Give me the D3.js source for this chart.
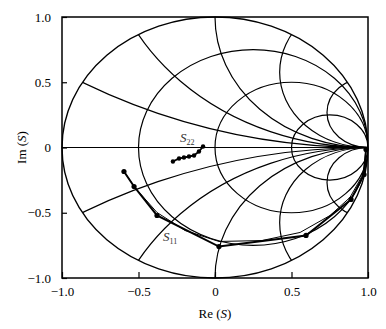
<!DOCTYPE html>
<html>
<head>
<meta charset="utf-8">
<script src="https://cdn.jsdelivr.net/npm/d3@7"></script>
<style>
  body { margin: 0; background: #fff; }
  svg { display: block; font-family: "Liberation Serif", "Times New Roman", Times, serif; }
</style>
</head>
<body>
<svg></svg>
<script>
// chart data
let s11Re = [-0.595, -0.529, -0.379, 0.026, 0.595, 0.889, 0.974, 0.987];
let s11Im = [-0.184, -0.299, -0.521, -0.759, -0.674, -0.398, -0.207, -0.015];

let s11FitRe = [-0.595, -0.523, -0.379, -0.196, 0.026, 0.307, 0.556, 0.752, 0.882, 0.967, 0.987];
let s11FitIm = [-0.184, -0.307, -0.498, -0.636, -0.720, -0.713, -0.651, -0.521, -0.383, -0.207, -0.015];

let s22Re = [-0.275, -0.235, -0.203, -0.170, -0.137, -0.105, -0.078];
let s22Im = [-0.107, -0.084, -0.077, -0.069, -0.061, -0.031, 0.008];

let resistances = [1 / 3, 1, 3];
let reactances = [0.268, 0.577, 1, 1.732, 3.732];

let xTicks = [-1, -0.5, 0, 0.5, 1];
let xTickLabels = ['\u22121.0', '\u22120.5', '0', '0.5', '1.0'];
let yTicks = [1, 0.5, 0, -0.5, -1];
let yTickLabels = ['1.0', '0.5', '0', '\u22120.5', '\u22121.0'];

let width = 386;
let height = 329;
let margin = {top: 17, right: 18, bottom: 51, left: 62};
let serif = '"Liberation Serif", "Times New Roman", Times, serif';

let svg = d3.select('svg')
  .attr('width', width)
  .attr('height', height)

let xScale = d3.scaleLinear()
  .domain([-1, 1])
  .range([margin.left, width - margin.right])

let yScale = d3.scaleLinear()
  .domain([-1, 1])
  .range([height - margin.bottom, margin.top])

let rx = (r) => xScale(r) - xScale(0);
let ry = (r) => yScale(0) - yScale(r);

let drawGrid = () => {
  svg.append('clipPath')
    .attr('id', 'unit')
    .append('ellipse')
    .attr('cx', xScale(0))
    .attr('cy', yScale(0))
    .attr('rx', rx(1))
    .attr('ry', ry(1))

  let grid = svg.append('g')
    .attr('clip-path', 'url(#unit)')
    .attr('fill', 'none')
    .attr('stroke', '#000')
    .attr('stroke-width', 1.2)

  // constant resistance circles
  grid.selectAll('.res')
    .data(resistances)
    .enter()
    .append('ellipse')
    .attr('class', 'res')
    .attr('cx', (r) => xScale(r / (1 + r)))
    .attr('cy', yScale(0))
    .attr('rx', (r) => rx(1 / (1 + r)))
    .attr('ry', (r) => ry(1 / (1 + r)))

  // constant reactance arcs, both signs
  let arcs = [];
  reactances.forEach((x) => { arcs.push(x); arcs.push(-x); });
  grid.selectAll('.reac')
    .data(arcs)
    .enter()
    .append('ellipse')
    .attr('class', 'reac')
    .attr('cx', xScale(1))
    .attr('cy', (x) => yScale(1 / x))
    .attr('rx', (x) => rx(1 / Math.abs(x)))
    .attr('ry', (x) => ry(1 / Math.abs(x)))

  grid.append('line')
    .attr('x1', xScale(-1))
    .attr('x2', xScale(1))
    .attr('y1', yScale(0))
    .attr('y2', yScale(0))

  svg.append('ellipse')
    .attr('cx', xScale(0))
    .attr('cy', yScale(0))
    .attr('rx', rx(1))
    .attr('ry', ry(1))
    .attr('fill', 'none')
    .attr('stroke', '#000')
    .attr('stroke-width', 1.4)
}

let drawSeries = () => {
  let line = d3.line()
    .x((d) => xScale(d[0]))
    .y((d) => yScale(d[1]))

  let fit = s11FitRe.map((v, i) => [v, s11FitIm[i]]);
  let s11 = s11Re.map((v, i) => [v, s11Im[i]]);
  let s22 = s22Re.map((v, i) => [v, s22Im[i]]);

  svg.append('path')
    .attr('d', line(fit))
    .attr('fill', 'none')
    .attr('stroke', '#000')
    .attr('stroke-width', 1)

  svg.append('path')
    .attr('d', line(s11))
    .attr('fill', 'none')
    .attr('stroke', '#000')
    .attr('stroke-width', 2)

  svg.append('path')
    .attr('d', line(s22))
    .attr('fill', 'none')
    .attr('stroke', '#000')
    .attr('stroke-width', 1.8)

  svg.selectAll('.p11')
    .data(s11)
    .enter()
    .append('circle')
    .attr('class', 'p11')
    .attr('cx', (d) => xScale(d[0]))
    .attr('cy', (d) => yScale(d[1]))
    .attr('r', 2.6)

  svg.selectAll('.p22')
    .data(s22)
    .enter()
    .append('circle')
    .attr('class', 'p22')
    .attr('cx', (d) => xScale(d[0]))
    .attr('cy', (d) => yScale(d[1]))
    .attr('r', 2.2)

  let label = (x, y, sub) => {
    let t = svg.append('text')
      .attr('x', xScale(x))
      .attr('y', yScale(y))
      .attr('font-size', 13)
      .attr('fill', '#333')
    t.append('tspan').attr('font-style', 'italic').text('S')
    t.append('tspan').attr('font-size', 8).attr('dy', 3).text(sub)
  }
  label(-0.228, 0.045, '22')
  label(-0.34, -0.715, '11')
}

let drawAxis = () => {
  let xAxis = d3.axisBottom(xScale)
    .tickValues(xTicks)
    .tickSize(-6)
    .tickPadding(9)
    .tickFormat((d, i) => xTickLabels[i]);

  let gx = svg.append('g')
    .attr('transform', `translate(0, ${height - margin.bottom})`)
    .call(xAxis)

  let yAxis = d3.axisLeft(yScale)
    .tickValues(yTicks)
    .tickSize(-5)
    .tickPadding(11)
    .tickFormat((d, i) => yTickLabels[i]);

  let gy = svg.append('g')
    .attr('transform', `translate(${margin.left}, 0)`)
    .call(yAxis)

  ;[gx, gy].forEach((g) => {
    g.attr('font-family', serif)
    g.select('.domain').remove()
    g.selectAll('line').attr('stroke', '#000').attr('stroke-width', 1.2)
    g.selectAll('text')
      .attr('font-size', 13)
      .attr('fill', '#000')
  })

  svg.append('rect')
    .attr('x', xScale(-1))
    .attr('y', yScale(1))
    .attr('width', xScale(1) - xScale(-1))
    .attr('height', yScale(-1) - yScale(1))
    .attr('fill', 'none')
    .attr('stroke', '#000')
    .attr('stroke-width', 1.5)

  let xl = svg.append('text')
    .attr('x', xScale(0))
    .attr('y', height - 11)
    .attr('text-anchor', 'middle')
    .attr('font-size', 13)
  xl.append('tspan').text('Re (')
  xl.append('tspan').attr('font-style', 'italic').text('S')
  xl.append('tspan').text(')')

  let yl = svg.append('text')
    .attr('transform', `translate(26, ${yScale(0)}) rotate(-90)`)
    .attr('text-anchor', 'middle')
    .attr('font-size', 13)
  yl.append('tspan').text('Im (')
  yl.append('tspan').attr('font-style', 'italic').text('S')
  yl.append('tspan').text(')')
}

drawGrid()
drawSeries()
drawAxis()
</script>
</body>
</html>
